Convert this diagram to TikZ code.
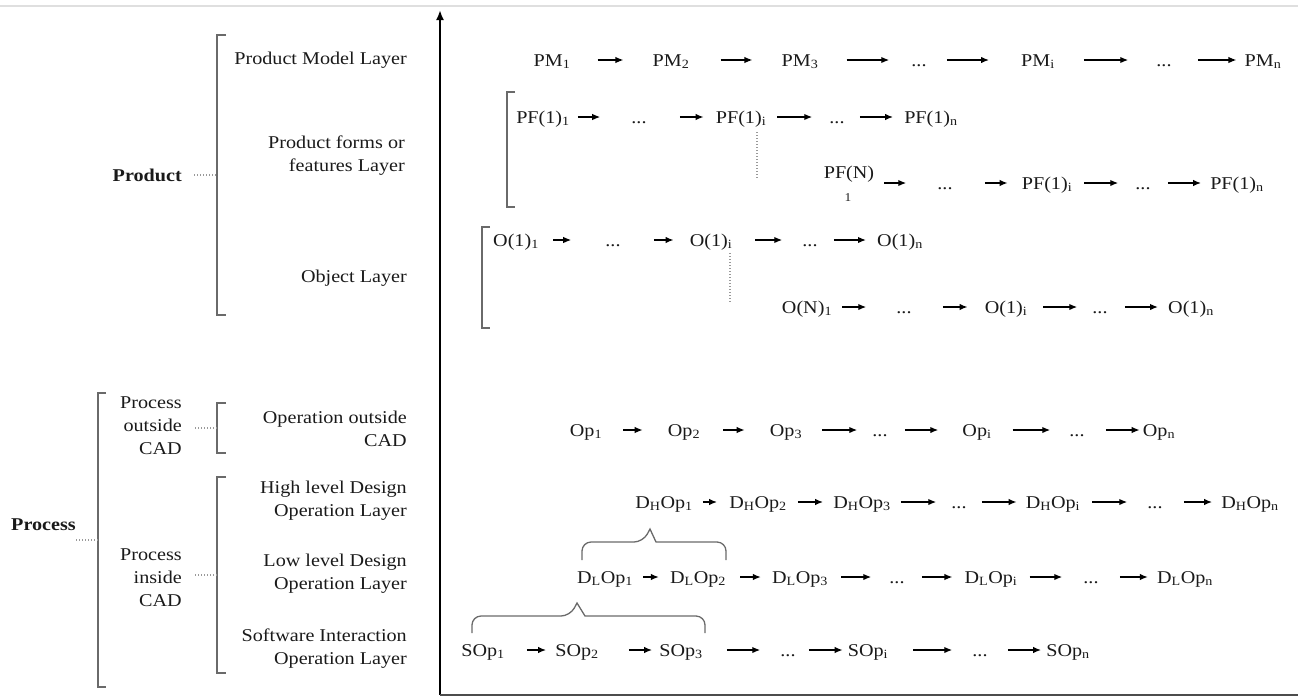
\documentclass[tikz,border=0pt]{standalone}
\usepackage{fontspec}
\setmainfont{Liberation Serif}[FakeStretch=1.12]
\usetikzlibrary{arrows.meta}
\definecolor{txt}{HTML}{1A1A1A}
\definecolor{brk}{HTML}{6A6A6A}
\newcommand\lo[1]{\textsubscript{#1}}
\newcommand\chainar[4]{\draw[arr,shorten <=#3pt,shorten >=#4pt] (#1) -- (#2);}
\begin{document}
\begin{tikzpicture}[x=1pt,y=-1pt,
  every node/.style={font=\fontsize{18}{23}\selectfont, text=txt, inner sep=0pt},
  lbl/.style={align=right, anchor=east},
  bold/.style={font=\fontsize{18}{23}\selectfont\bfseries},
  cn/.style={text height=12pt, text depth=0pt},
  arr/.style={-{Latex[length=8pt,width=6.5pt]}, line width=1.4pt, draw=black},
  brack/.style={draw=brk, line width=1.3pt},
  dotline/.style={draw=gray!80, line width=1.2pt, dash pattern=on 1.2pt off 1.8pt},
  axis/.style={line width=2pt, draw=black}]

\useasboundingbox (0,0) rectangle (1298,697);
\draw[gray!25, line width=1.5pt] (0,6) -- (1298,6);
\draw[axis, -{Latex[length=10pt,width=8pt]}] (440,695) -- (440,10);
\draw[line width=1.5pt, draw=black!70] (440,695) -- (1298,695);

% brackets
\draw[brack] (226,35) -- (217,35) -- (217,315) -- (226,315);
\draw[brack] (106,393) -- (98,393) -- (98,687) -- (106,687);
\draw[brack] (226,403) -- (217,403) -- (217,453) -- (226,453);
\draw[brack] (226,477) -- (217,477) -- (217,673) -- (226,673);
\draw[brack] (515,92) -- (507,92) -- (507,207) -- (515,207);
\draw[brack] (490,227) -- (482,227) -- (482,328) -- (490,328);

% left labels
\node[lbl] (lPM) at (407,60) {Product Model Layer};
\node[lbl] (lPF) at (405,155.5) {Product forms or\\features Layer};
\node[lbl] (lOb) at (407,278) {Object Layer};
\node[lbl,bold] (prod) at (182,175) {Product};
\coordinate (prodB) at (217,175);
\draw[dotline, shorten <=12pt] (prod) -- (prodB);

\node[lbl,bold] (proc) at (76,525) {Process};
\coordinate (procL) at (76,540);
\coordinate (procB) at (98,540);
\draw[dotline] (procL) -- (procB);

\node[lbl] (pout) at (182,426) {Process\\outside\\CAD};
\coordinate (poutB) at (217,428);
\draw[dotline, shorten <=13pt] (pout.east |- poutB) -- (poutB);
\node[lbl] (pin) at (182,578) {Process\\inside\\CAD};
\coordinate (pinB) at (217,575);
\draw[dotline, shorten <=13pt] (pin.east |- pinB) -- (pinB);

\node[lbl] (lOpO) at (407,428.5) {Operation outside\\CAD};
\node[lbl] (lHi) at (407,500.5) {High level Design\\Operation Layer};
\node[lbl] (lLo) at (407,573.5) {Low level Design\\Operation Layer};
\node[lbl] (lSw) at (407,648.5) {Software Interaction\\Operation Layer};

% PM row
\node[cn] (PM1) at (552,60) {PM\lo{1}};
\node[cn] (PM2) at (671,60) {PM\lo{2}};
\node[cn] (PM3) at (800,60) {PM\lo{3}};
\node[cn] (PMd1) at (919,60) {...};
\node[cn] (PMi) at (1038,60) {PM\lo{i}};
\node[cn] (PMd2) at (1164,60) {...};
\node[cn] (PMn) at (1263,60) {PM\lo{n}};
\chainar{PM1}{PM2}{27}{29}
\chainar{PM2}{PM3}{31}{29}
\chainar{PM3}{PMd1}{28}{22}
\chainar{PMd1}{PMi}{20}{32}
\chainar{PMi}{PMd2}{29}{28}
\chainar{PMd2}{PMn}{26}{8}

% PF(1) row
\node[cn] (PF11) at (543,117) {PF(1)\lo{1}};
\node[cn] (PFd1) at (639,117) {...};
\node[cn] (PF1i) at (741,117) {PF(1)\lo{i}};
\node[cn] (PFd2) at (837,117) {...};
\node[cn] (PF1n) at (931,117) {PF(1)\lo{n}};
\chainar{PF11}{PFd1}{8}{31}
\chainar{PFd1}{PF1i}{33}{12}
\chainar{PF1i}{PFd2}{11}{17}
\chainar{PFd2}{PF1n}{15}{11}
\draw[dotline] ([xshift=16pt,yshift=-9pt]PF1i.south) -- ++(0,46);

% PF(N) row
\node[cn] (PFN) at (849,172) {PF(N)};
\node[font=\fontsize{12}{12}\selectfont] (PFN1) at (848,198) {1};
\node[cn] (PFNd) at (945,183) {...};
\node[cn] (PFi2) at (1047,183) {PF(1)\lo{i}};
\node[cn] (PFNd2) at (1143,183) {...};
\node[cn] (PFn2) at (1237,183) {PF(1)\lo{n}};
\draw[arr, shorten <=10pt, shorten >=31pt] (PFN.east |- PFNd) -- (PFNd);
\chainar{PFNd}{PFi2}{32}{14}
\chainar{PFi2}{PFNd2}{12}{17}
\chainar{PFNd2}{PFn2}{17}{9}

% O(1) row
\node[cn] (O11) at (516,240) {O(1)\lo{1}};
\node[cn] (Od1) at (613,240) {...};
\node[cn] (O1i) at (711,240) {O(1)\lo{i}};
\node[cn] (Od2) at (810,240) {...};
\node[cn] (O1n) at (900,240) {O(1)\lo{n}};
\chainar{O11}{Od1}{14}{34}
\chainar{Od1}{O1i}{33}{16}
\chainar{O1i}{Od2}{23}{20}
\chainar{Od2}{O1n}{16}{11}
\draw[dotline] ([xshift=19pt,yshift=-7pt]O1i.south) -- ++(0,49);

% O(N) row
\node[cn] (ON1) at (807,307) {O(N)\lo{1}};
\node[cn] (ONd1) at (904,307) {...};
\node[cn] (O1i2) at (1006,307) {O(1)\lo{i}};
\node[cn] (ONd2) at (1100,307) {...};
\node[cn] (O1n2) at (1191,307) {O(1)\lo{n}};
\chainar{ON1}{ONd1}{10}{30}
\chainar{ONd1}{O1i2}{31}{17}
\chainar{O1i2}{ONd2}{16}{15}
\chainar{ONd2}{O1n2}{17}{10}

% Op row
\node[cn] (Op1) at (586,430) {Op\lo{1}};
\node[cn] (Op2) at (684,430) {Op\lo{2}};
\node[cn] (Op3) at (786,430) {Op\lo{3}};
\node[cn] (Opd1) at (880,430) {...};
\node[cn] (Opi) at (977,430) {Op\lo{i}};
\node[cn] (Opd2) at (1077,430) {...};
\node[cn] (Opn) at (1159,430) {Op\lo{n}};
\chainar{Op1}{Op2}{21}{25}
\chainar{Op2}{Op3}{23}{25}
\chainar{Op3}{Opd1}{20}{15}
\chainar{Opd1}{Opi}{17}{24}
\chainar{Opi}{Opd2}{21}{19}
\chainar{Opd2}{Opn}{21}{3}

% DH row
\node[cn] (DH1) at (664,502) {D\lo{H}Op\lo{1}};
\node[cn] (DH2) at (758,502) {D\lo{H}Op\lo{2}};
\node[cn] (DH3) at (862,502) {D\lo{H}Op\lo{3}};
\node[cn] (DHd1) at (959,502) {...};
\node[cn] (DHi) at (1053,502) {D\lo{H}Op\lo{i}};
\node[cn] (DHd2) at (1155,502) {...};
\node[cn] (DHn) at (1250,502) {D\lo{H}Op\lo{n}};
\chainar{DH1}{DH2}{10}{12}
\chainar{DH2}{DH3}{11}{10}
\chainar{DH3}{DHd1}{10}{15}
\chainar{DHd1}{DHi}{15}{9}
\chainar{DHi}{DHd2}{12}{20}
\chainar{DHd2}{DHn}{21}{9}

% DL row
\node[cn] (DL1) at (605,577) {D\lo{L}Op\lo{1}};
\node[cn] (DL2) at (698,577) {D\lo{L}Op\lo{2}};
\node[cn] (DL3) at (800,577) {D\lo{L}Op\lo{3}};
\node[cn] (DLd1) at (897,577) {...};
\node[cn] (DLi) at (991,577) {D\lo{L}Op\lo{i}};
\node[cn] (DLd2) at (1091,577) {...};
\node[cn] (DLn) at (1185,577) {D\lo{L}Op\lo{n}};
\chainar{DL1}{DL2}{10}{11}
\chainar{DL2}{DL3}{14}{11}
\chainar{DL3}{DLd1}{13}{18}
\chainar{DLd1}{DLi}{17}{12}
\chainar{DLi}{DLd2}{12}{21}
\chainar{DLd2}{DLn}{21}{9}

% SOp row
\node[cn] (SO1) at (483,650) {SOp\lo{1}};
\node[cn] (SO2) at (577,650) {SOp\lo{2}};
\node[cn] (SO3) at (681,650) {SOp\lo{3}};
\node[cn] (SOd1) at (788,650) {...};
\node[cn] (SOi) at (868,650) {SOp\lo{i}};
\node[cn] (SOd2) at (980,650) {...};
\node[cn] (SOn) at (1068,650) {SOp\lo{n}};
\chainar{SO1}{SO2}{22}{9}
\chainar{SO2}{SO3}{30}{7}
\chainar{SO3}{SOd1}{24}{20}
\chainar{SOd1}{SOi}{13}{5}
\chainar{SOi}{SOd2}{25}{20}
\chainar{SOd2}{SOn}{20}{5}

% braces
\draw[brack] (582,560) [rounded corners=9pt] -- (582,542) -- (643,542) [sharp corners] -- (650,529) -- (656,542) [rounded corners=9pt] -- (726,542) -- (726,560);
\draw[brack] (472,633) [rounded corners=9pt] -- (472,616) -- (570,616) [sharp corners] -- (577,603) -- (585,616) [rounded corners=9pt] -- (705,616) -- (705,633);
\end{tikzpicture}
\end{document}
